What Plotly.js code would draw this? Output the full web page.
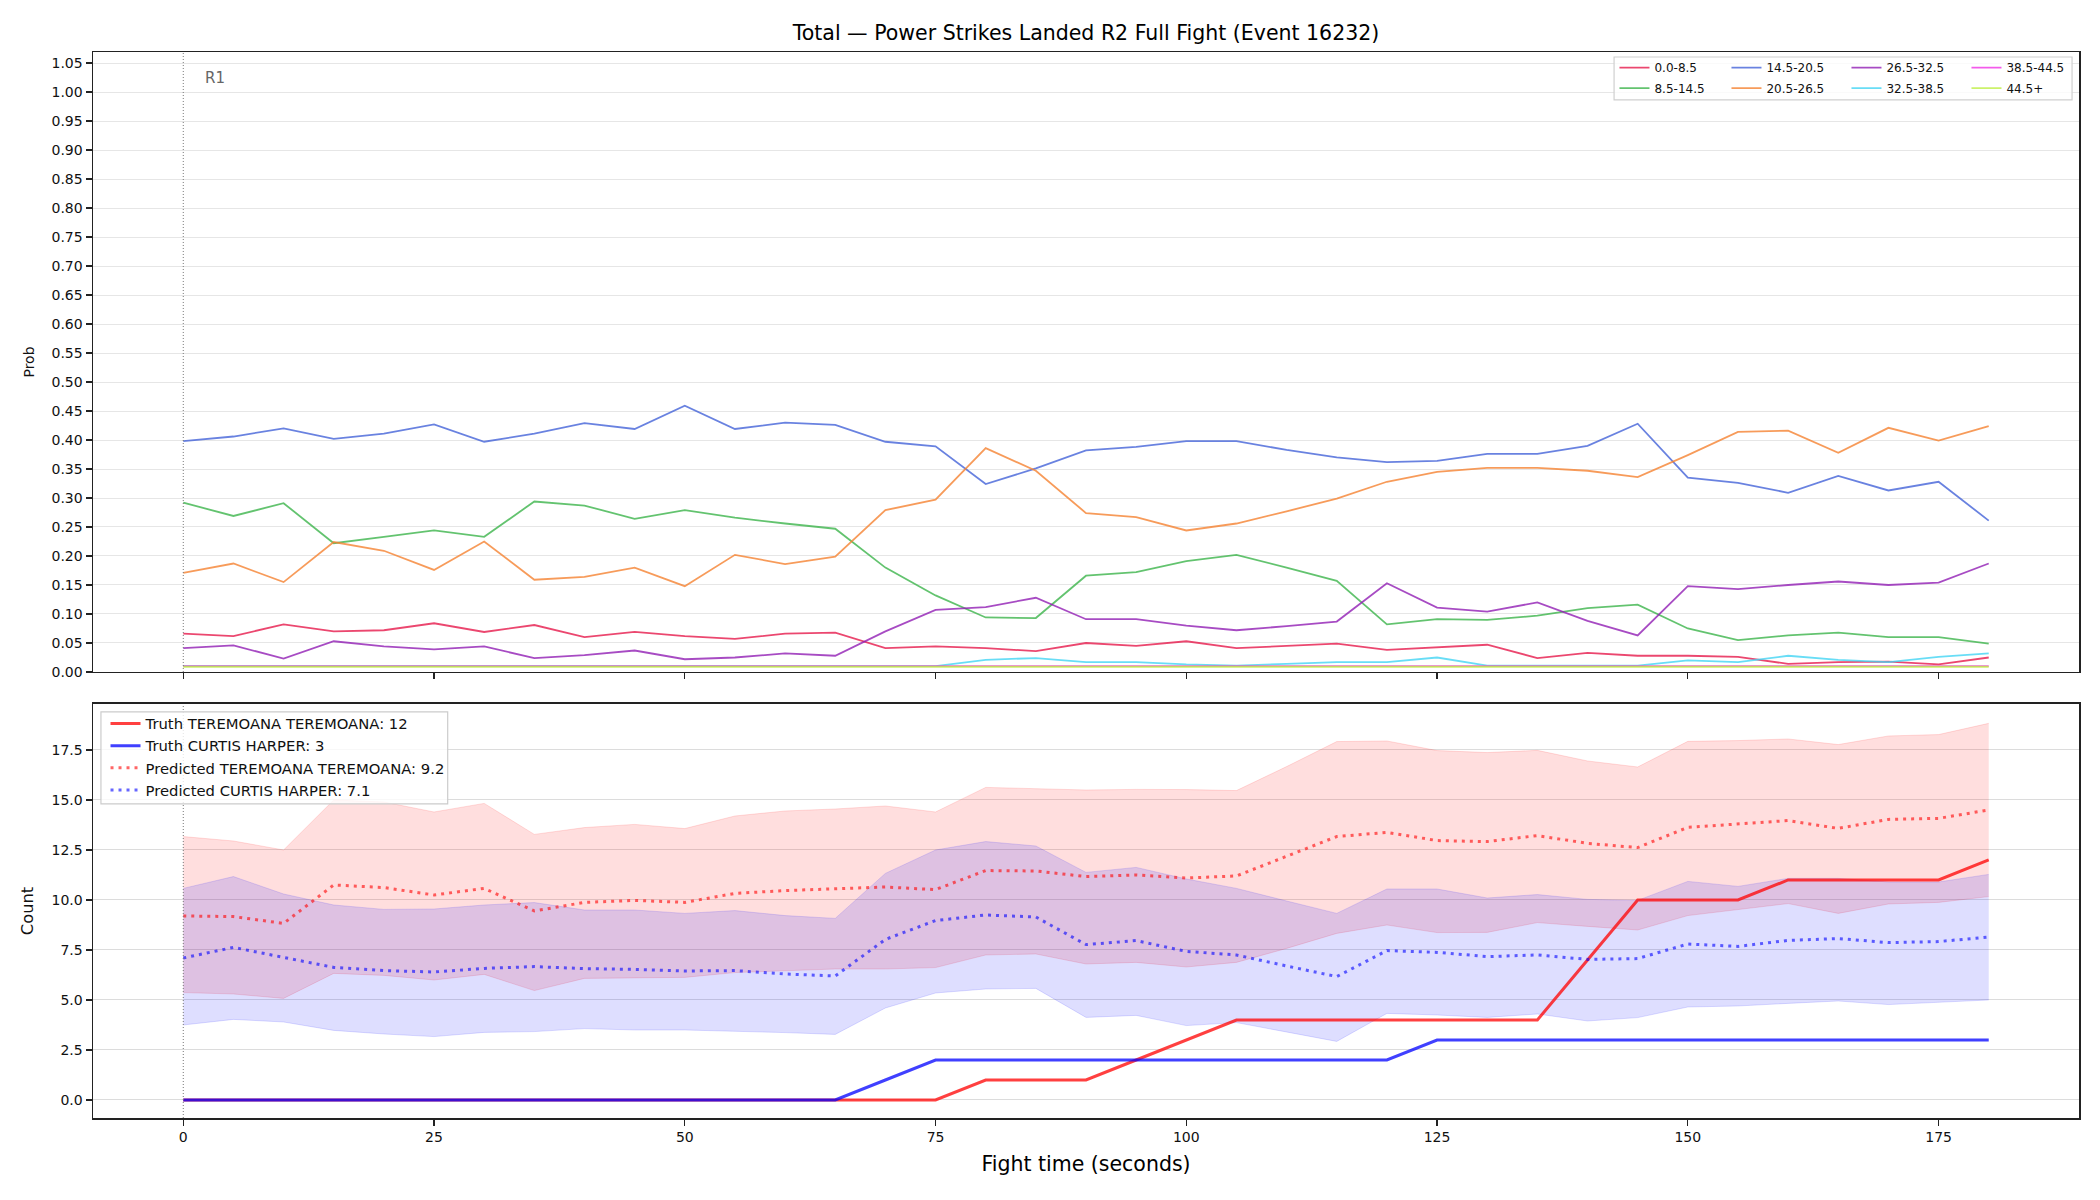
<!DOCTYPE html>
<html>
<head>
<meta charset="utf-8">
<script src="https://cdn.plot.ly/plotly-3.0.1.min.js"></script>
<style>
  html, body { margin: 0; padding: 0; background: #fff; }
  #chart { width: 2100px; height: 1200px; }
</style>
</head>
<body>
<div id="chart"></div>
<script>
// Fight time in seconds (5 s steps)
const fightTime = [0, 5, 10, 15, 20, 25, 30, 35, 40, 45, 50, 55, 60, 65, 70, 75, 80, 85, 90,
  95, 100, 105, 110, 115, 120, 125, 130, 135, 140, 145, 150, 155, 160, 165, 170, 175, 180];

// Probability of each total-strikes bucket over time
const bucketLabels = ['0.0-8.5', '8.5-14.5', '14.5-20.5', '20.5-26.5', '26.5-32.5', '32.5-38.5', '38.5-44.5', '44.5+'];
const prob_0_8 = [0.066, 0.062, 0.082, 0.070, 0.072, 0.084, 0.069, 0.081, 0.060, 0.069, 0.062, 0.057, 0.066,
  0.068, 0.041, 0.044, 0.041, 0.036, 0.050, 0.045, 0.053, 0.041, 0.045, 0.049, 0.038, 0.043,
  0.047, 0.024, 0.033, 0.028, 0.028, 0.026, 0.014, 0.017, 0.018, 0.013, 0.025];
const prob_8_14 = [0.292, 0.269, 0.291, 0.222, 0.233, 0.244, 0.233, 0.294, 0.287, 0.264, 0.279, 0.266, 0.256,
  0.247, 0.180, 0.132, 0.094, 0.093, 0.166, 0.172, 0.191, 0.202, 0.180, 0.157, 0.082, 0.091,
  0.090, 0.097, 0.110, 0.116, 0.075, 0.055, 0.063, 0.068, 0.060, 0.060, 0.049];
const prob_14_20 = [0.398, 0.406, 0.420, 0.402, 0.411, 0.427, 0.397, 0.411, 0.429, 0.419, 0.459, 0.419, 0.430,
  0.426, 0.397, 0.389, 0.324, 0.351, 0.382, 0.388, 0.398, 0.398, 0.383, 0.370, 0.362, 0.364,
  0.376, 0.376, 0.390, 0.428, 0.335, 0.326, 0.309, 0.338, 0.313, 0.328, 0.261];
const prob_20_26 = [0.171, 0.187, 0.155, 0.224, 0.209, 0.176, 0.225, 0.159, 0.164, 0.180, 0.148, 0.202, 0.186,
  0.199, 0.279, 0.297, 0.386, 0.347, 0.274, 0.267, 0.244, 0.256, 0.277, 0.299, 0.328, 0.345,
  0.352, 0.352, 0.347, 0.336, 0.374, 0.414, 0.416, 0.378, 0.421, 0.399, 0.424];
const prob_26_32 = [0.041, 0.046, 0.023, 0.053, 0.044, 0.039, 0.044, 0.024, 0.029, 0.037, 0.022, 0.025, 0.032,
  0.028, 0.070, 0.107, 0.112, 0.128, 0.091, 0.091, 0.080, 0.072, 0.079, 0.087, 0.153, 0.111,
  0.104, 0.120, 0.088, 0.063, 0.148, 0.143, 0.150, 0.156, 0.150, 0.154, 0.187];
const prob_32_38 = [0.010, 0.010, 0.010, 0.010, 0.010, 0.010, 0.010, 0.010, 0.010, 0.010, 0.010, 0.010, 0.010,
  0.010, 0.010, 0.010, 0.021, 0.024, 0.017, 0.017, 0.013, 0.011, 0.014, 0.017, 0.017, 0.025,
  0.011, 0.011, 0.011, 0.011, 0.020, 0.017, 0.028, 0.021, 0.017, 0.026, 0.032];
const prob_38_44 = [0.010, 0.010, 0.010, 0.010, 0.010, 0.010, 0.010, 0.010, 0.010, 0.010, 0.010, 0.010, 0.010,
  0.010, 0.010, 0.010, 0.010, 0.010, 0.010, 0.010, 0.010, 0.010, 0.010, 0.010, 0.010, 0.010,
  0.010, 0.010, 0.010, 0.010, 0.010, 0.010, 0.010, 0.010, 0.010, 0.010, 0.010];
const prob_44_up = [0.009, 0.009, 0.009, 0.009, 0.009, 0.009, 0.009, 0.009, 0.009, 0.009, 0.009, 0.009, 0.009,
  0.009, 0.009, 0.009, 0.009, 0.009, 0.009, 0.009, 0.009, 0.009, 0.009, 0.009, 0.009, 0.009,
  0.009, 0.009, 0.009, 0.009, 0.009, 0.009, 0.009, 0.009, 0.009, 0.009, 0.009];

// Cumulative power strikes landed: actual counts and model prediction with band
const fighterA = 'TEREMOANA TEREMOANA';
const fighterB = 'CURTIS HARPER';
const truthA = [0, 0, 0, 0, 0, 0, 0, 0, 0, 0, 0, 0, 0, 0, 0, 0, 1, 1, 1,
  2, 3, 4, 4, 4, 4, 4, 4, 4, 7, 10, 10, 10, 11, 11, 11, 11, 12];
const truthB = [0, 0, 0, 0, 0, 0, 0, 0, 0, 0, 0, 0, 0, 0, 1, 2, 2, 2, 2,
  2, 2, 2, 2, 2, 2, 3, 3, 3, 3, 3, 3, 3, 3, 3, 3, 3, 3];
const predA = [9.2, 9.17, 8.83, 10.75, 10.62, 10.25, 10.58, 9.45, 9.88, 9.98, 9.88, 10.33, 10.47,
  10.55, 10.65, 10.52, 11.47, 11.45, 11.17, 11.25, 11.1, 11.2, 12.17, 13.17, 13.38, 12.97,
  12.92, 13.22, 12.83, 12.62, 13.63, 13.8, 13.97, 13.58, 14.03, 14.08, 14.5];
const predA_lo = [5.37, 5.3, 5.08, 6.33, 6.23, 6.0, 6.28, 5.47, 6.08, 6.12, 6.13, 6.37, 6.45,
  6.55, 6.55, 6.62, 7.25, 7.3, 6.8, 6.88, 6.65, 6.88, 7.58, 8.33, 8.75, 8.37,
  8.38, 8.87, 8.68, 8.5, 9.22, 9.53, 9.82, 9.33, 9.8, 9.88, 10.17];
const predA_hi = [13.17, 12.95, 12.5, 15.0, 14.9, 14.4, 14.83, 13.28, 13.62, 13.78, 13.57, 14.2, 14.45,
  14.55, 14.7, 14.4, 15.63, 15.57, 15.5, 15.53, 15.52, 15.47, 16.67, 17.92, 17.95, 17.47,
  17.37, 17.48, 16.95, 16.65, 17.93, 17.97, 18.05, 17.77, 18.2, 18.27, 18.83];
const predB = [7.1, 7.63, 7.13, 6.63, 6.47, 6.4, 6.58, 6.67, 6.57, 6.53, 6.45, 6.47, 6.3,
  6.2, 8.03, 8.97, 9.25, 9.15, 7.77, 7.97, 7.43, 7.25, 6.7, 6.17, 7.47, 7.38,
  7.17, 7.25, 7.03, 7.07, 7.8, 7.68, 7.98, 8.07, 7.87, 7.92, 8.15];
const predB_lo = [3.75, 4.03, 3.9, 3.48, 3.3, 3.17, 3.38, 3.42, 3.57, 3.5, 3.5, 3.45, 3.37,
  3.28, 4.6, 5.35, 5.55, 5.58, 4.13, 4.23, 3.72, 3.87, 3.4, 2.93, 4.33, 4.25,
  4.13, 4.3, 3.95, 4.12, 4.65, 4.7, 4.83, 4.95, 4.77, 4.87, 5.0];
const predB_hi = [10.58, 11.17, 10.3, 9.75, 9.53, 9.55, 9.75, 9.87, 9.5, 9.5, 9.33, 9.47, 9.22,
  9.08, 11.33, 12.5, 12.92, 12.7, 11.38, 11.63, 11.05, 10.58, 9.95, 9.33, 10.55, 10.55,
  10.1, 10.27, 10.03, 9.98, 10.93, 10.68, 11.08, 11.08, 10.9, 10.9, 11.28];

// Round markers
const roundStarts = [0];
const roundLabels = ['R1'];

const bucketSeries = [prob_0_8, prob_8_14, prob_14_20, prob_20_26, prob_26_32, prob_32_38, prob_38_44, prob_44_up];
const bucketColors = ['rgba(230,25,75,0.8)', 'rgba(60,180,75,0.8)', 'rgba(67,99,216,0.8)', 'rgba(245,130,49,0.8)',
  'rgba(145,30,180,0.8)', 'rgba(66,212,244,0.8)', 'rgba(240,50,230,0.8)', 'rgba(191,239,69,0.8)'];
// legend laid out in two rows of four, filled column by column
const bucketLegend = ['legend', 'legend2', 'legend', 'legend2', 'legend', 'legend2', 'legend', 'legend2'];
const bucketEntryWidth = [67, 67, 75, 75, 75, 75, 75, 75];

const traces = [];
bucketSeries.forEach((vals, i) => {
  traces.push({
    type: 'scatter', mode: 'lines', x: fightTime, y: vals,
    name: bucketLabels[i], xaxis: 'x', yaxis: 'y',
    line: { color: bucketColors[i], width: 1.8 },
    legend: bucketLegend[i], legendwidth: bucketEntryWidth[i],
    hoverinfo: 'skip'
  });
});

function band(lo, hi, rgb) {
  const c = 'rgba(' + rgb + ',0.13)';
  traces.push({ type: 'scatter', mode: 'lines', x: fightTime, y: lo, xaxis: 'x2', yaxis: 'y2',
    line: { color: c, width: 1 }, showlegend: false, hoverinfo: 'skip' });
  traces.push({ type: 'scatter', mode: 'lines', x: fightTime, y: hi, xaxis: 'x2', yaxis: 'y2',
    line: { color: c, width: 1 }, fill: 'tonexty', fillcolor: c, showlegend: false, hoverinfo: 'skip' });
}
band(predA_lo, predA_hi, '255,0,0');
band(predB_lo, predB_hi, '0,0,255');

traces.push({ type: 'scatter', mode: 'lines', x: fightTime, y: truthA, xaxis: 'x2', yaxis: 'y2',
  name: 'Truth ' + fighterA + ': ' + truthA[truthA.length - 1], legend: 'legend3',
  line: { color: 'rgba(255,0,0,0.75)', width: 3 }, hoverinfo: 'skip' });
traces.push({ type: 'scatter', mode: 'lines', x: fightTime, y: truthB, xaxis: 'x2', yaxis: 'y2',
  name: 'Truth ' + fighterB + ': ' + truthB[truthB.length - 1], legend: 'legend3',
  line: { color: 'rgba(0,0,255,0.75)', width: 3 }, hoverinfo: 'skip' });
traces.push({ type: 'scatter', mode: 'lines', x: fightTime, y: predA, xaxis: 'x2', yaxis: 'y2',
  name: 'Predicted ' + fighterA + ': ' + predA[0].toFixed(1), legend: 'legend3',
  line: { color: 'rgba(255,0,0,0.6)', width: 3, dash: '3px,5px' }, hoverinfo: 'skip' });
traces.push({ type: 'scatter', mode: 'lines', x: fightTime, y: predB, xaxis: 'x2', yaxis: 'y2',
  name: 'Predicted ' + fighterB + ': ' + predB[0].toFixed(1), legend: 'legend3',
  line: { color: 'rgba(0,0,255,0.6)', width: 3, dash: '3px,5px' }, hoverinfo: 'skip' });

const axisLine = { showline: true, mirror: true, linecolor: '#222', linewidth: 1.5,
  ticks: 'outside', ticklen: 6, tickwidth: 1.3, tickcolor: '#222', zeroline: false };
const xCommon = Object.assign({}, axisLine, { range: [-9, 189], tick0: 0, dtick: 25, showgrid: false });

const shapes = [];
roundStarts.forEach(r => {
  ['y', 'y2'].forEach((ya, k) => {
    shapes.push({ type: 'line', xref: k === 0 ? 'x' : 'x2', yref: ya + ' domain', x0: r, x1: r, y0: 0, y1: 1,
      line: { color: '#777', width: 1, dash: '1px,2px' }, layer: 'above' });
  });
});
// frames behind the legends
shapes.push({ type: 'rect', xref: 'paper', yref: 'paper', x0: 0.7659, x1: 0.9965, y0: 0.955, y1: 0.9953,
  line: { color: '#d0d0d0', width: 1.2 }, fillcolor: 'rgba(255,255,255,0.8)', layer: 'above' });
shapes.push({ type: 'rect', xref: 'paper', yref: 'paper', x0: 0.004, x1: 0.1786, y0: 0.2946, y1: 0.3809,
  line: { color: '#cccccc', width: 1.2 }, fillcolor: 'rgba(255,255,255,0.8)', layer: 'above' });

const annotations = roundStarts.map((r, i) => ({
  x: r, y: 1.024, xref: 'x', yref: 'y', text: roundLabels[i], showarrow: false,
  xanchor: 'left', yanchor: 'middle', xshift: 20, font: { size: 15, color: '#666' }
}));

const layout = {
  width: 2100, height: 1200,
  paper_bgcolor: '#fff', plot_bgcolor: '#fff',
  font: { family: 'DejaVu Sans', size: 14, color: '#111' },
  margin: { l: 93, r: 21, t: 52, b: 82, pad: 0 },
  showlegend: true,
  title: { text: 'Total — Power Strikes Landed R2 Full Fight (Event 16232)', x: 0.5, xref: 'paper',
    y: 1 - 32.5 / 1200, yref: 'container', yanchor: 'middle', font: { size: 20.5, color: '#000' } },
  xaxis: Object.assign({}, xCommon, { anchor: 'y', domain: [0, 1], showticklabels: false }),
  yaxis: Object.assign({}, axisLine, { anchor: 'x', domain: [0.4184, 1], range: [0, 1.069], tick0: 0, dtick: 0.05,
    tickformat: '.2f', showgrid: true, gridcolor: '#e6e6e6', gridwidth: 1,
    title: { text: 'Prob', font: { size: 14 }, standoff: 13 } }),
  xaxis2: Object.assign({}, xCommon, { anchor: 'y2', domain: [0, 1], showticklabels: true,
    title: { text: 'Fight time (seconds)', font: { size: 20.5, color: '#000' }, standoff: 12 } }),
  yaxis2: Object.assign({}, axisLine, { anchor: 'x2', domain: [0, 0.3884], range: [-0.9, 19.8], tick0: 0, dtick: 2.5,
    tickformat: '.1f', showgrid: true, gridcolor: '#dcdcdc', gridwidth: 1,
    title: { text: 'Count', font: { size: 16.3 }, standoff: 14 } }),
  legend: { orientation: 'h', x: 0.7661, y: 0.999, xanchor: 'left', yanchor: 'top',
    bgcolor: 'rgba(0,0,0,0)', borderwidth: 0, font: { size: 12, color: '#111' },
    entrywidthmode: 'pixels', itemwidth: 30, traceorder: 'normal' },
  legend2: { orientation: 'h', x: 0.7661, y: 0.9798, xanchor: 'left', yanchor: 'top',
    bgcolor: 'rgba(0,0,0,0)', borderwidth: 0, font: { size: 12, color: '#111' },
    entrywidthmode: 'pixels', itemwidth: 30, traceorder: 'normal' },
  legend3: { x: 0.0063, y: 0.3853, xanchor: 'left', yanchor: 'top',
    bgcolor: 'rgba(0,0,0,0)', borderwidth: 0,
    font: { size: 14.8, color: '#111' }, itemwidth: 30, traceorder: 'normal' },
  shapes: shapes,
  annotations: annotations,
  hovermode: false
};

Plotly.newPlot('chart', traces, layout, { displayModeBar: false, staticPlot: true });
</script>
</body>
</html>
